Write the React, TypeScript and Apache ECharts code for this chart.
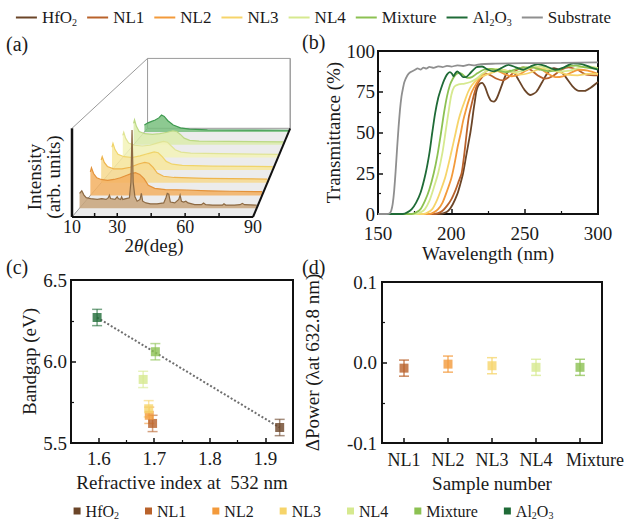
import React, { useEffect, useRef } from "react";
import * as echarts from "echarts";

const FONT = "Liberation Serif, DejaVu Serif, serif";
const TXT = "#1a1a1a";

// ---------- samples / colours ----------
const SAMPLES = ["HfO2", "NL1", "NL2", "NL3", "NL4", "Mixture", "Al2O3"];
const COLORS = ["#6b4528", "#b9622b", "#f39a3b", "#f6d46a", "#d6e98f", "#8cc152", "#1f6b37"];
const SUBSTRATE = "Substrate";
const SUBSTRATE_COLOR = "#8f8f8f";

// ---------- (a) XRD waterfall: [2theta, normalised intensity] ----------
const xrdHfO2 = [[10,0.17],[11,0.2],[12,0.15],[13,0.12],[15,0.11],[18,0.1],[20,0.11],[22,0.1],[23,0.12],[23.5,0.15],[24,0.11],[26,0.1],[27,0.13],[27.5,0.11],[28.5,0.1],[29,0.13],[29.5,0.1],[31,0.11],[32.5,0.12],[33.2,0.3],[33.7,0.9],[34.2,0.3],[35,0.13],[36,0.08],[37.3,0.1],[37.9,0.17],[38.5,0.08],[40,0.06],[42,0.05],[45,0.05],[48,0.06],[49,0.12],[49.6,0.17],[50.3,0.16],[51,0.07],[53,0.06],[54.8,0.1],[55.4,0.15],[56,0.08],[57,0.07],[58,0.08],[59,0.06],[62,0.04],[65,0.04],[66,0.06],[67,0.04],[70,0.035],[74.5,0.035],[75.2,0.05],[76,0.035],[80,0.035],[82.5,0.04],[83.5,0.055],[84.5,0.04],[90,0.035]];
const xrdNL1 = [[10,0.28],[10.5,0.33],[11.5,0.26],[13,0.21],[15,0.19],[18,0.18],[21,0.19],[24,0.21],[27,0.24],[29,0.26],[31,0.27],[33,0.25],[35,0.2],[37,0.12],[40,0.085],[45,0.07],[55,0.065],[65,0.055],[75,0.05],[90,0.045]];
const xrdNL2 = [[10,0.28],[10.5,0.32],[11.5,0.25],[13,0.2],[16,0.17],[20,0.17],[24,0.19],[28,0.23],[31,0.25],[33,0.24],[35,0.19],[37,0.12],[40,0.08],[45,0.065],[60,0.055],[90,0.045]];
const xrdNL3 = [[10,0.29],[10.5,0.34],[11.5,0.26],[13,0.2],[16,0.17],[20,0.16],[24,0.18],[28,0.21],[31,0.23],[33,0.22],[35,0.17],[37,0.11],[40,0.075],[45,0.06],[60,0.05],[90,0.045]];
const xrdNL4 = [[10,0.29],[10.5,0.33],[11.5,0.25],[13,0.19],[16,0.16],[20,0.15],[24,0.16],[28,0.19],[31,0.21],[33,0.2],[35,0.15],[37,0.1],[40,0.07],[45,0.055],[60,0.05],[90,0.04]];
const xrdMixture = [[10,0.29],[10.5,0.34],[11.5,0.25],[13,0.18],[16,0.15],[20,0.14],[24,0.15],[28,0.17],[31,0.19],[33,0.18],[35,0.14],[37,0.09],[40,0.06],[45,0.05],[60,0.045],[90,0.04]];
const xrdAl2O3 = [[10,0.1],[12,0.13],[14,0.15],[16,0.17],[18,0.2],[19.5,0.24],[21,0.22],[23,0.16],[26,0.1],[30,0.06],[35,0.04],[45,0.03],[90,0.025]];
const XRD_LAYERS = [xrdHfO2, xrdNL1, xrdNL2, xrdNL3, xrdNL4, xrdMixture, xrdAl2O3];
const XRD_TICKS = [20, 30, 45, 60, 75];
const XRD_TICK_LABELS = [10, 30, 60, 90];

// ---------- (b) transmittance: [wavelength nm, T %] ----------
const transHfO2 = [[150,0],[192,0],[195,0.5],[198,2],[201,6],[204,12],[206,18],[208,25],[210,35],[212,45],[213,50],[214,56],[215,63],[216,69],[217,75],[218,78],[219.5,80],[221,80.5],[223,78],[225,73],[227,69.5],[229,69],[231,71],[234,78],[237,85],[240,88],[243,86.5],[246,82],[250,76],[254,73],[258,75],[262,81],[266,87],[270,89.5],[274,88],[278,84],[283,78],[287,75.5],[291,75.5],[295,77.5],[300,81]];
const transNL1 = [[150,0],[188,0],[191,0.5],[194,2],[197,5],[200,9],[203,15],[205,20],[207,25],[209,38],[210.5,50],[212,60],[214,68],[216,75],[218,80],[221,84],[224,86],[227,85],[231,83],[235,82],[239,84],[244,88],[249,90],[254,88.5],[259,85],[264,83],[269,84.5],[275,88.5],[280,90],[286,88.5],[292,85.5],[300,85]];
const transNL2 = [[150,0],[185,0],[188,1],[191,3],[194,7],[197,14],[200,22],[202,30],[204.5,42],[206.5,50],[208,57],[210,64],[212,70],[214,75],[217,80],[220,84],[223,87],[227,89],[231,88],[236,86],[241,84.5],[246,85.5],[251,88],[256,90],[261,89],[266,86],[271,84],[276,84.5],[281,86.5],[287,88.5],[293,88],[300,86]];
const transNL3 = [[150,0],[181,0],[184,1],[187,3],[190,8],[193,15],[196,23],[199.5,36],[203,50],[205,58],[207,64],[209,69],[211.5,75],[214,79],[217,82],[220,84],[224,85.5],[229,87],[235,88.5],[241,87],[247,85.5],[253,86.5],[259,88.5],[265,89],[272,87.5],[279,85.5],[286,85],[293,86],[300,86]];
const transNL4 = [[150,0],[176,0],[179,1],[182,3],[185,8],[188,16],[191,25],[194,38],[196,50],[198,62],[200,73],[202,78],[205,79.5],[209,80],[213,81],[217,83],[221,86],[226,88.5],[231,89],[237,88],[243,87],[249,88],[255,90],[261,90.5],[267,89],[274,87.5],[281,88],[288,90],[294,90.5],[300,89.5]];
const transMixture = [[150,0],[173,0],[176,1],[179,3],[182,8],[185,15],[188,25],[190.5,36],[193,50],[195,62],[197,72],[199,79],[201,83],[203,85.5],[205,86.5],[207,86],[209,84.5],[211,83.5],[214,84],[218,86.5],[222,88.5],[227,89],[232,88],[237,87],[243,88.5],[249,90],[255,90],[261,88.5],[267,87.5],[273,88.5],[279,90.5],[285,91],[291,90],[300,89]];
const transAl2O3 = [[150,0],[167,0],[170,1],[173,3],[176,7],[179,13],[182.5,25],[185,37],[187,50],[189,62],[191,71],[193,77],[195,82],[197,85.5],[199,87],[200.5,86],[201.5,84.5],[202.5,86],[204,87.5],[206,86],[208,84],[210,84],[213,86.5],[217,90],[221,90.5],[225,88.5],[229,87.5],[234,89.5],[239,91.5],[244,90],[249,88.5],[254,90.5],[259,92],[265,90.5],[271,88.5],[277,90],[283,92.5],[289,92],[295,90],[300,88.5]];
const transSubstrate = [[150,0],[156,0],[158,0.5],[159,2],[160,6],[161,14],[162,26],[163,40],[164,53],[165,64],[166,72],[167,77],[168,81],[170,85],[172,87],[175,88.3],[177,89.3],[179,88.6],[181,89.8],[183,89.2],[185,90.3],[188,89.7],[191,90.6],[194,90.1],[197,90.9],[200,90.4],[204,91.2],[208,90.8],[212,91.6],[216,91.2],[220,92],[230,92.2],[250,92.5],[275,92.7],[300,93]];
const TRANS = [transHfO2, transNL1, transNL2, transNL3, transNL4, transMixture, transAl2O3];

// ---------- (c) bandgap vs refractive index ----------
const refractiveIndex = [1.926, 1.697, 1.691, 1.690, 1.680, 1.702, 1.597];
const bandgap = [5.595, 5.62, 5.67, 5.71, 5.89, 6.06, 6.27];
const bandgapErr = [0.05, 0.05, 0.05, 0.05, 0.05, 0.05, 0.05];
const fitLine = [[1.597, 6.27], [1.926, 5.595]];
const cXLabels = [1.6, 1.7, 1.8, 1.9];
const cXMinor = [1.65, 1.75, 1.85];

// ---------- (d) delta power ----------
const dCategories = ["NL1", "NL2", "NL3", "NL4", "Mixture"];
const dPower = [-0.007, -0.002, -0.004, -0.006, -0.006];
const dPowerErr = [0.01, 0.01, 0.01, 0.01, 0.01];

// ---------- (a) projection (waterfall perspective) ----------
const DEPTH_DX = 33.4;
const DEPTH_DY = 1.0;
const SHRINK = 0.212;
const project = (t: number, d: number, i: number) => {
  const s = 1 - SHRINK * d;
  return [10 + DEPTH_DX * d + (t - 10) * s, DEPTH_DY * d + i * s];
};
const layerDepth = (k: number) => 0.1 + 0.143 * k;
const LAYER_FILL = ["#c8a57b", "#f3b061", "#f7d98e", "#f8e89c", "#f3f3b8", "#dcecac", "#79bf7e"];
const LAYER_LINE = ["#8d6a43", "#e3923a", "#eeb54e", "#f0d46a", "#e0e496", "#bcd985", "#3f9a50"];

const alpha = (hex: string, a: number) => {
  const n = parseInt(hex.slice(1), 16);
  return `rgba(${(n >> 16) & 255},${(n >> 8) & 255},${n & 255},${a})`;
};

const legendFmt = (n: string) =>
  n === "HfO2" ? "HfO{s|2}" : n === "Al2O3" ? "Al{s|2}O{s|3}" : n;

function buildOption(): any {
  const axisBase = {
    nameLocation: "middle",
    axisLine: { show: true, onZero: false, lineStyle: { color: "#111", width: 2 } },
    axisTick: { show: true, inside: true, length: 5, lineStyle: { color: "#111", width: 1.5 } },
    minorTick: { show: true, splitNumber: 2, length: 3, lineStyle: { color: "#111", width: 1.2 } },
    splitLine: { show: false },
    minorSplitLine: { show: false },
    axisLabel: { color: TXT, fontFamily: FONT, fontSize: 19 },
    nameTextStyle: { color: TXT, fontFamily: FONT, fontSize: 19 },
  };
  const fix1 = (v: number) => (Math.abs(v) < 1e-9 ? "0.0" : v.toFixed(1));

  const series: any[] = [];

  // (a) back frame + floor
  series.push({
    type: "custom",
    xAxisIndex: 0,
    yAxisIndex: 0,
    clip: false,
    z: 1,
    silent: true,
    data: [[40, 0.5]],
    renderItem: (_p: any, api: any) => {
      const c = (t: number, d: number, i: number) => api.coord(project(t, d, i));
      const gray = { stroke: "#9a9a9a", lineWidth: 1 };
      return {
        type: "group",
        children: [
          { type: "polygon", shape: { points: [c(10, 0, 0), c(90, 0, 0), c(90, 1, 0), c(10, 1, 0)] }, style: { fill: "#ececec" } },
          { type: "polygon", shape: { points: [c(10, 1, 0), c(90, 1, 0), c(90, 1, 1), c(10, 1, 1)] }, style: { fill: "#ffffff", ...gray } },
          { type: "line", shape: { x1: c(10, 0, 1)[0], y1: c(10, 0, 1)[1], x2: c(10, 1, 1)[0], y2: c(10, 1, 1)[1] }, style: gray },
          { type: "line", shape: { x1: c(10, 0, 0)[0], y1: c(10, 0, 0)[1], x2: c(10, 1, 0)[0], y2: c(10, 1, 0)[1] }, style: gray },
        ],
      };
    },
  });

  // (a) XRD layers (back to front)
  series.push({
    type: "custom",
    xAxisIndex: 0,
    yAxisIndex: 0,
    clip: false,
    z: 2,
    silent: true,
    data: [6, 5, 4, 3, 2, 1, 0].map((k) => [40, 0.5, k]),
    renderItem: (_p: any, api: any) => {
      const k = api.value(2) as number;
      const d = layerDepth(k);
      const pts = XRD_LAYERS[k];
      const line = pts.map((p) => api.coord(project(p[0], d, p[1])));
      const b0 = api.coord(project(pts[0][0], d, 0));
      const b1 = api.coord(project(pts[pts.length - 1][0], d, 0));
      return {
        type: "group",
        children: [
          { type: "polygon", shape: { points: [b0, ...line, b1] }, style: { fill: LAYER_FILL[k], opacity: 0.85 } },
          { type: "polyline", shape: { points: line }, style: { stroke: LAYER_LINE[k], lineWidth: 1.2, fill: null } },
        ],
      };
    },
  });

  // (a) front axes, ticks, labels
  series.push({
    type: "custom",
    xAxisIndex: 0,
    yAxisIndex: 0,
    clip: false,
    z: 3,
    silent: true,
    data: [[40, 0.5]],
    renderItem: (_p: any, api: any) => {
      const c = (t: number, d: number, i: number) => api.coord(project(t, d, i));
      const seg = (a: number[], b: number[], w: number, col = "#111") => ({
        type: "line",
        shape: { x1: a[0], y1: a[1], x2: b[0], y2: b[1] },
        style: { stroke: col, lineWidth: w },
      });
      const children: any[] = [
        seg(c(10, 0, 0), c(10, 0, 1), 2.5),
        seg(c(10, 0, 0), c(90, 0, 0), 2),
        seg(c(90, 0, 0), c(90, 1, 0), 2),
        seg(c(90, 1, 0), c(90, 1, 1), 1, "#9a9a9a"),
      ];
      XRD_TICKS.forEach((t) => {
        const p = c(t, 0, 0);
        children.push(seg(p, [p[0], p[1] - 4], 1.5));
      });
      XRD_TICK_LABELS.forEach((t) => {
        const p = c(t, 0, 0);
        children.push({
          type: "text",
          x: p[0],
          y: p[1] + 10,
          style: { text: String(t), fontFamily: FONT, fontSize: 18, fill: TXT, align: "center", verticalAlign: "middle" },
        });
      });
      return { type: "group", children };
    },
  });

  // (b) transmittance lines
  TRANS.forEach((data, i) => {
    series.push({
      type: "line",
      name: SAMPLES[i],
      xAxisIndex: 1,
      yAxisIndex: 1,
      data,
      showSymbol: false,
      smooth: 0.25,
      color: COLORS[i],
      lineStyle: { width: 1.8, color: COLORS[i] },
      z: 3,
    });
  });
  series.push({
    type: "line",
    name: SUBSTRATE,
    xAxisIndex: 1,
    yAxisIndex: 1,
    data: transSubstrate,
    showSymbol: false,
    smooth: 0.2,
    color: SUBSTRATE_COLOR,
    lineStyle: { width: 1.8, color: SUBSTRATE_COLOR },
    z: 3,
  });

  // (c) fit line
  series.push({
    type: "line",
    xAxisIndex: 2,
    yAxisIndex: 2,
    data: fitLine,
    showSymbol: false,
    lineStyle: { color: "#6e6e6e", width: 2, type: [2, 2] },
    z: 2,
    silent: true,
  });
  // error bars
  const errRender = (_p: any, api: any) => {
    const x = api.value(0);
    const y = api.value(1);
    const e = api.value(2);
    const col = api.value(3);
    const top = api.coord([x, y + e]);
    const bot = api.coord([x, y - e]);
    const hw = 5;
    const st = { stroke: col, lineWidth: 1.5 };
    return {
      type: "group",
      children: [
        { type: "line", shape: { x1: top[0], y1: top[1], x2: bot[0], y2: bot[1] }, style: st },
        { type: "line", shape: { x1: top[0] - hw, y1: top[1], x2: top[0] + hw, y2: top[1] }, style: st },
        { type: "line", shape: { x1: bot[0] - hw, y1: bot[1], x2: bot[0] + hw, y2: bot[1] }, style: st },
      ],
    };
  };
  series.push({
    type: "custom",
    xAxisIndex: 2,
    yAxisIndex: 2,
    z: 3,
    silent: true,
    dimensions: ["x", "y", "e", { name: "c", type: "ordinal" }],
    data: SAMPLES.map((_, i) => [refractiveIndex[i], bandgap[i], bandgapErr[i], alpha(COLORS[i], 0.6)]),
    renderItem: errRender,
  });
  SAMPLES.forEach((s, i) => {
    series.push({
      type: "scatter",
      name: s,
      xAxisIndex: 2,
      yAxisIndex: 2,
      data: [[refractiveIndex[i], bandgap[i]]],
      symbol: "rect",
      symbolSize: 9,
      color: COLORS[i],
      itemStyle: { color: COLORS[i] },
      z: 4,
    });
  });

  // (d) error bars + points
  series.push({
    type: "custom",
    xAxisIndex: 4,
    yAxisIndex: 3,
    z: 3,
    silent: true,
    dimensions: ["x", "y", "e", { name: "c", type: "ordinal" }],
    data: dCategories.map((_, i) => [i, dPower[i], dPowerErr[i], alpha(COLORS[i + 1], 0.75)]),
    renderItem: errRender,
  });
  dCategories.forEach((_cat, i) => {
    series.push({
      type: "scatter",
      name: SAMPLES[i + 1],
      xAxisIndex: 4,
      yAxisIndex: 3,
      data: [[i, dPower[i]]],
      symbol: "rect",
      symbolSize: 9,
      color: COLORS[i + 1],
      itemStyle: { color: COLORS[i + 1] },
      z: 4,
    });
  });

  const legendText = {
    color: TXT,
    fontFamily: FONT,
    fontSize: 17,
    rich: { s: { fontSize: 10, fontFamily: FONT, color: TXT, verticalAlign: "bottom", padding: [9, 0, 0, 0] } },
  };

  return {
    animation: false,
    backgroundColor: "#ffffff",
    textStyle: { fontFamily: FONT },
    legend: [
      {
        data: [...SAMPLES, SUBSTRATE],
        top: 9,
        left: "center",
        padding: 0,
        icon: "rect",
        itemWidth: 21,
        itemHeight: 2,
        itemGap: 10,
        itemStyle: { borderWidth: 0 },
        selectedMode: false,
        formatter: legendFmt,
        textStyle: legendText,
      },
      {
        data: SAMPLES,
        top: 503,
        left: "center",
        padding: 0,
        icon: "rect",
        itemWidth: 7,
        itemHeight: 7,
        itemGap: 26,
        itemStyle: { borderWidth: 0 },
        selectedMode: false,
        formatter: legendFmt,
        textStyle: { ...legendText, fontSize: 16 },
      },
    ],
    grid: [
      { left: 72, top: 57, width: 218, height: 160, show: false },
      { left: 378, top: 51, width: 220, height: 163, show: true, borderColor: "#111", borderWidth: 2 },
      { left: 71, top: 280, width: 222, height: 163, show: true, borderColor: "#111", borderWidth: 2 },
      { left: 382, top: 282, width: 220, height: 161, show: true, borderColor: "#111", borderWidth: 2 },
    ],
    xAxis: [
      { type: "value", gridIndex: 0, min: 10, max: 106.35, show: false },
      {
        ...axisBase,
        type: "value",
        gridIndex: 1,
        min: 150,
        max: 300,
        interval: 50,
        name: "Wavelength (nm)",
        nameGap: 28,
        axisLabel: { ...axisBase.axisLabel, margin: 10 },
      },
      {
        ...axisBase,
        type: "value",
        gridIndex: 2,
        min: 1.55,
        max: 1.95,
        name: "Refractive index at  532 nm",
        nameGap: 30,
        minorTick: { show: false },
        axisTick: { ...axisBase.axisTick, customValues: cXLabels },
        axisLabel: { ...axisBase.axisLabel, margin: 6, customValues: cXLabels, formatter: (v: number) => v.toFixed(1) },
      },
      {
        type: "value",
        gridIndex: 2,
        position: "bottom",
        min: 1.55,
        max: 1.95,
        axisLine: { show: false, onZero: false },
        axisLabel: { show: false },
        splitLine: { show: false },
        axisTick: { show: true, inside: true, length: 3, customValues: cXMinor, lineStyle: { color: "#111", width: 1.2 } },
      },
      {
        ...axisBase,
        type: "category",
        gridIndex: 3,
        data: dCategories,
        boundaryGap: true,
        name: "Sample number",
        nameGap: 31,
        minorTick: { show: false },
        axisTick: { ...axisBase.axisTick, alignWithLabel: true },
        axisLabel: {
          ...axisBase.axisLabel,
          fontSize: 18,
          margin: 8,
          interval: 0,
          formatter: (v: string) => (v === "Mixture" ? "{m|Mixture}" : v),
          rich: { m: { fontFamily: FONT, fontSize: 18, color: TXT, padding: [0, 0, 0, 30] } },
        },
      },
    ],
    yAxis: [
      { type: "value", gridIndex: 0, min: 0, max: 1.804, show: false },
      {
        ...axisBase,
        type: "value",
        gridIndex: 1,
        min: 0,
        max: 100,
        interval: 25,
        name: "Transmittance (%)",
        nameGap: 31,
        axisLabel: { ...axisBase.axisLabel, margin: 3 },
      },
      {
        ...axisBase,
        type: "value",
        gridIndex: 2,
        min: 5.5,
        max: 6.5,
        interval: 0.5,
        name: "Bandgap (eV)",
        nameGap: 30,
        axisLabel: { ...axisBase.axisLabel, margin: 4, formatter: fix1 },
      },
      {
        ...axisBase,
        type: "value",
        gridIndex: 3,
        min: -0.1,
        max: 0.1,
        interval: 0.1,
        name: "ΔPower (λat 632.8 nm)",
        nameGap: 60,
        axisLabel: { ...axisBase.axisLabel, margin: 5, formatter: fix1 },
      },
    ],
    graphic: [
      { type: "text", left: 6, top: 34, style: { text: "(a)", fontFamily: FONT, fontSize: 20, fill: TXT } },
      { type: "text", left: 302, top: 32, style: { text: "(b)", fontFamily: FONT, fontSize: 20, fill: TXT } },
      { type: "text", left: 6, top: 257, style: { text: "(c)", fontFamily: FONT, fontSize: 20, fill: TXT } },
      { type: "text", left: 302, top: 257, style: { text: "(d)", fontFamily: FONT, fontSize: 20, fill: TXT } },
      {
        type: "text",
        x: 44,
        y: 177,
        rotation: Math.PI / 2,
        style: { text: "Intensity\n(arb. units)", fontFamily: FONT, fontSize: 19, lineHeight: 19, fill: TXT, align: "center", verticalAlign: "middle" },
      },
      {
        type: "text",
        x: 154,
        y: 245,
        style: {
          text: "2{i|θ}(deg)",
          fontFamily: FONT,
          fontSize: 19,
          fill: TXT,
          align: "center",
          verticalAlign: "middle",
          rich: { i: { fontFamily: FONT, fontSize: 19, fontStyle: "italic", fill: TXT } },
        },
      },
    ],
    series,
  };
}

export default function App() {
  const ref = useRef<HTMLDivElement>(null);
  useEffect(() => {
    if (!ref.current) return;
    const chart = echarts.init(ref.current, null, { renderer: "svg" });
    chart.setOption(buildOption());
    return () => chart.dispose();
  }, []);
  return <div ref={ref} style={{ position: "fixed", left: 0, top: 0, width: 627, height: 527 }} />;
}
